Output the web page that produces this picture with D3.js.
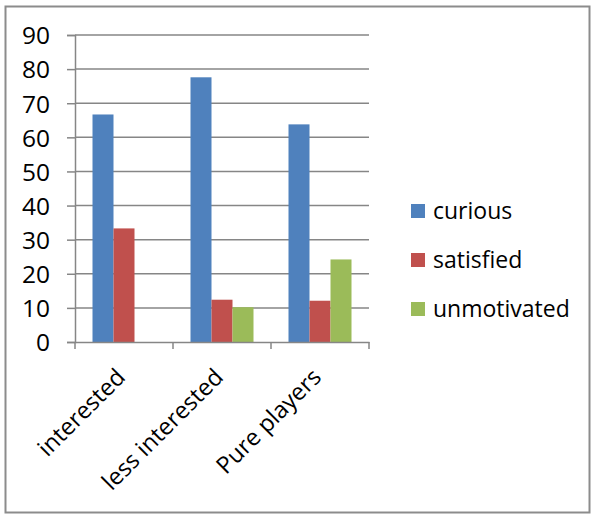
<!DOCTYPE html>
<html>
<head>
<meta charset="utf-8">
<script src="https://cdn.jsdelivr.net/npm/d3@7"></script>
<style>
  body { margin: 0; background: #fff; }
  text { font-family: 'Open Sans', sans-serif; fill: #000; }
</style>
</head>
<body>
<div id="chart"></div>
<script>
const categories = ['interested', 'less interested', 'Pure players']
const seriesNames = ['curious', 'satisfied', 'unmotivated']
const curious = [66.7, 77.6, 63.8]
const satisfied = [33.3, 12.4, 12.1]
const unmotivated = [0, 10.2, 24.2]
const yTicks = [0, 10, 20, 30, 40, 50, 60, 70, 80, 90]
const colors = ['#4F81BD', '#C0504D', '#9BBB59']

const W = 594
const H = 514
const margin = { top: 35, right: 225, bottom: 172, left: 75 }
const width = 369 - margin.left
const height = 342 - margin.top

const root = d3
  .select('#chart')
  .append('svg')
  .attr('width', W)
  .attr('height', H)

// outer frame
root
  .append('rect')
  .attr('x', 5.5)
  .attr('y', 6.5)
  .attr('width', 584)
  .attr('height', 506)
  .attr('fill', 'none')
  .attr('stroke', '#8c8c8c')
  .attr('stroke-width', 2)

const svg = root.append('g').attr('transform', `translate(${margin.left}, ${margin.top})`)

const table = categories.map((c, i) => ({
  category: c,
  values: [curious[i], satisfied[i], unmotivated[i]],
}))

const x0 = d3.scaleBand().domain(categories).range([0, width])
const x1 = d3.scaleBand().domain(seriesNames).range([17.5, x0.bandwidth() - 17.5])
const y = d3.scaleLinear().domain([0, 90]).range([height, 0])

// gridlines + y axis
const yAxis = svg
  .append('g')
  .call(d3.axisLeft(y).tickValues(yTicks).tickSize(8).tickPadding(17))
yAxis.select('.domain').attr('stroke', '#868686').attr('stroke-width', 1.5)
yAxis.selectAll('.tick line').attr('stroke', '#868686').attr('stroke-width', 1.5)
yAxis.selectAll('.tick text').style('font-size', '24.5px').attr('dy', '0.36em')

svg
  .append('g')
  .selectAll('line')
  .data(yTicks.filter((d) => d > 0))
  .join('line')
  .attr('x1', 0)
  .attr('x2', width)
  .attr('y1', (d) => y(d))
  .attr('y2', (d) => y(d))
  .attr('stroke', '#868686')
  .attr('stroke-width', 1.5)

// bars
svg
  .append('g')
  .selectAll('g')
  .data(table)
  .join('g')
  .attr('transform', (d) => `translate(${x0(d.category)}, 0)`)
  .selectAll('rect')
  .data((d) => d.values.map((v, i) => ({ key: seriesNames[i], value: v, i })))
  .join('rect')
  .attr('x', (d) => x1(d.key))
  .attr('y', (d) => y(d.value))
  .attr('width', x1.bandwidth())
  .attr('height', (d) => height - y(d.value))
  .attr('fill', (d) => colors[d.i])

// x axis
const xAxis = svg
  .append('g')
  .attr('transform', `translate(0, ${height})`)
  .call(d3.axisBottom(x0).tickSize(0).tickFormat(''))
xAxis.select('.domain').attr('stroke', '#868686').attr('stroke-width', 1.5)
svg
  .append('g')
  .selectAll('line')
  .data(d3.range(categories.length + 1))
  .join('line')
  .attr('x1', (d) => d * x0.bandwidth())
  .attr('x2', (d) => d * x0.bandwidth())
  .attr('y1', height)
  .attr('y2', height + 7)
  .attr('stroke', '#868686')
  .attr('stroke-width', 1.5)

svg
  .append('g')
  .selectAll('text')
  .data(categories)
  .join('text')
  .attr('transform', (d) => `translate(${x0(d) + x0.bandwidth() / 2 - 9}, ${height + 25}) rotate(-45)`)
  .attr('text-anchor', 'end')
  .attr('dy', '0.7em')
  .style('font-size', '23.5px')
  .text((d) => d)

// legend
const legend = root
  .append('g')
  .selectAll('g')
  .data(seriesNames)
  .join('g')
  .attr('transform', (d, i) => `translate(411, ${204 + i * 49})`)
legend
  .append('rect')
  .attr('width', 14)
  .attr('height', 14)
  .attr('fill', (d, i) => colors[i])
legend
  .append('text')
  .attr('x', 22)
  .attr('y', 7)
  .attr('dy', '0.36em')
  .style('font-size', '23px')
  .text((d) => d)
</script>
</body>
</html>
